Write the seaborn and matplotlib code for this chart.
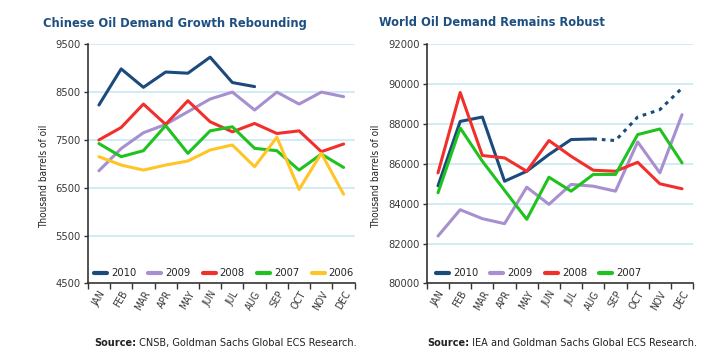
import matplotlib
matplotlib.use("Agg")
import matplotlib.pyplot as plt
import seaborn as sns
import numpy as np
import pandas as pd

# ==========================================
# DATA
# ==========================================
months = ["JAN", "FEB", "MAR", "APR", "MAY", "JUN",
          "JUL", "AUG", "SEP", "OCT", "NOV", "DEC"]

# Chinese oil demand, thousand barrels
china_2010 = [8230, 8985, 8600, 8920, 8895, 9230, 8700, 8615, None, None, None, None]
china_2009 = [6855, 7320, 7650, 7825, 8090, 8355, 8500, 8125, 8500, 8250, 8500, 8405]
china_2008 = [7500, 7760, 8250, 7825, 8320, 7880, 7670, 7845, 7635, 7690, 7255, 7415]
china_2007 = [7425, 7150, 7275, 7800, 7220, 7690, 7775, 7325, 7275, 6870, 7205, 6925]
china_2006 = [7150, 6975, 6870, 6975, 7060, 7290, 7395, 6940, 7555, 6465, 7220, 6365]

# World oil demand, thousand barrels
world_2010 = [84900, 88130, 88350, 85130, 85630, 86470, 87220, 87250, None, None, None, None]
world_2010_fc = [None, None, None, None, None, None, None, 87250, 87170, 88350, 88720, 89800]
world_2009 = [82380, 83700, 83250, 83000, 84830, 83970, 84970, 84880, 84630, 87100, 85550, 88470]
world_2008 = [85550, 89580, 86420, 86300, 85630, 87170, 86380, 85680, 85630, 86080, 85000, 84750]
world_2007 = [84550, 87800, 86130, 84670, 83220, 85330, 84630, 85470, 85470, 87470, 87750, 86050]

china_years = ["2010", "2009", "2008", "2007", "2006"]
world_years = ["2010", "2009", "2008", "2007"]

palette = {"2010": "#1b4a7c", "2009": "#a88fd0", "2008": "#f2302b",
           "2007": "#1fc21f", "2006": "#ffc425"}

TITLE_COLOR = "#1d4f80"
GRID_COLOR = "#c9e9f3"
TEXT_COLOR = "#3a3a3a"


def to_long(series_by_year):
    rows = []
    for year, vals in series_by_year.items():
        for i, v in enumerate(vals):
            if v is not None:
                rows.append({"idx": i, "value": v, "year": year})
    return pd.DataFrame(rows)


china_df = to_long(dict(zip(china_years, [china_2010, china_2009, china_2008,
                                           china_2007, china_2006])))
world_df = to_long(dict(zip(world_years, [world_2010, world_2009, world_2008,
                                           world_2007])))
world_fc_df = to_long({"2010": world_2010_fc})

# ==========================================
# PLOTTING
# ==========================================
sns.set_theme(style="white")
plt.rcParams["font.family"] = ["DejaVu Sans"]
plt.rcParams["font.stretch"] = "condensed"

fig = plt.figure(figsize=(7.08, 3.57), dpi=100)
ax1 = fig.add_axes([0.124, 0.206, 0.377, 0.670])
ax2 = fig.add_axes([0.603, 0.206, 0.376, 0.670])


def style_axis(ax, ylim, yticks, label_x):
    ax.set_xlim(-0.5, 11.5)
    ax.set_ylim(*ylim)
    ax.set_yticks(yticks)
    ax.set_yticklabels([str(t) for t in yticks], fontsize=8, color=TEXT_COLOR)
    ax.set_xticks(range(12))
    ax.set_xticklabels(months, rotation=60, ha="right", rotation_mode="anchor",
                       fontsize=7.5, color=TEXT_COLOR)
    ax.set_xticks(np.arange(-0.5, 12, 1), minor=True)
    ax.tick_params(axis="x", which="major", length=0, pad=4)
    ax.tick_params(axis="x", which="minor", length=4, width=1, color="#333333",
                   direction="out", bottom=True)
    ax.tick_params(axis="y", length=3, width=1, color="#333333",
                   direction="out", left=True, pad=2)
    for t in yticks[1:]:
        ax.axhline(t, color=GRID_COLOR, lw=1.2, zorder=0)
    for s in ["top", "right"]:
        ax.spines[s].set_visible(False)
    for s in ["left", "bottom"]:
        ax.spines[s].set_color("#333333")
        ax.spines[s].set_linewidth(1.2)
    ax.set_xlabel("")
    ax.set_ylabel("Thousand barrels of oil", fontsize=7.2, color="#222222")
    ax.yaxis.set_label_coords(label_x, 0.45)


def add_legend(ax, handles, labels, x_off):
    ax.legend(handles, labels, loc="center left", ncol=len(labels), frameon=False,
              fontsize=8, handlelength=1.17, handletextpad=0.36, columnspacing=1.1,
              borderpad=0, borderaxespad=0, bbox_to_anchor=(x_off, 10 / 239))
    for line in ax.get_legend().get_lines():
        line.set_linewidth(3)


# Left: Chinese demand
sns.lineplot(data=china_df, x="idx", y="value", hue="year", hue_order=china_years,
             palette=palette, linewidth=2.2, ax=ax1, sort=False)
style_axis(ax1, (4500, 9500), [4500, 5500, 6500, 7500, 8500, 9500], -0.146)
h, l = ax1.get_legend_handles_labels()
add_legend(ax1, h, l, 6 / 267)

# Right: World demand
sns.lineplot(data=world_df, x="idx", y="value", hue="year", hue_order=world_years,
             palette=palette, linewidth=2.2, ax=ax2, sort=False)
sns.lineplot(data=world_fc_df, x="idx", y="value", color=palette["2010"],
             linewidth=2.2, linestyle=(0, (1.2, 1.6)), ax=ax2, legend=False)
style_axis(ax2, (80000, 92000), [80000, 82000, 84000, 86000, 88000, 90000, 92000], -0.173)
h, l = ax2.get_legend_handles_labels()
add_legend(ax2, h[:4], l[:4], 9 / 266)

# Titles
fig.text(43 / 708, 1 - 23 / 357, "Chinese Oil Demand Growth Rebounding",
         fontsize=9.2, fontweight="bold", color=TITLE_COLOR, va="center", ha="left")
fig.text(379 / 708, 1 - 23 / 357, "World Oil Demand Remains Robust",
         fontsize=9.2, fontweight="bold", color=TITLE_COLOR, va="center", ha="left")

# Sources: bold "Source:" placed just left of the regular text
fig.canvas.draw()
renderer = fig.canvas.get_renderer()
for right_px, rest in [(357, "CNSB, Goldman Sachs Global ECS Research."),
                       (697, "IEA and Goldman Sachs Global ECS Research.")]:
    t = fig.text(right_px / 708, 1 - 343 / 357, " " + rest,
                 fontsize=7.8, color="#222222", ha="right", va="center")
    bb = t.get_window_extent(renderer)
    fig.text(bb.x0 / fig.bbox.width, 1 - 343 / 357, "Source:",
             fontsize=7.8, fontweight="bold", color="#222222", ha="right", va="center")

plt.savefig("out.png", dpi=100)
plt.close()
